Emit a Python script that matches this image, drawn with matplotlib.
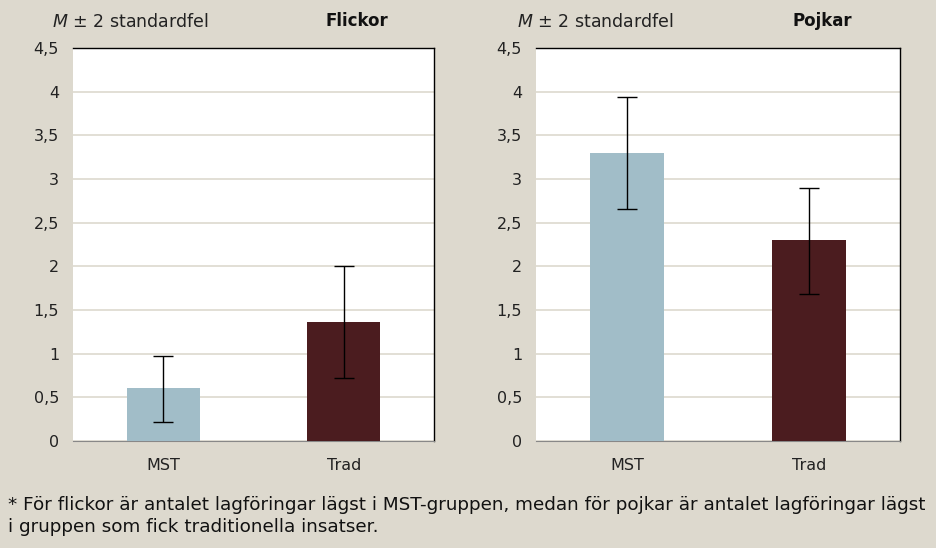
import matplotlib.pyplot as plt
import numpy as np

plt.rcParams['font.family'] = ['DejaVu Sans']

groups = ['MST', 'Trad']
flickor_m = [0.61, 1.36]
flickor_lo = [0.22, 0.72]
flickor_hi = [0.97, 2.00]
pojkar_m = [3.30, 2.30]
pojkar_lo = [2.66, 1.68]
pojkar_hi = [3.94, 2.90]
yticks = [0, 0.5, 1, 1.5, 2, 2.5, 3, 3.5, 4, 4.5]
ylabels = ['0', '0,5', '1', '1,5', '2', '2,5', '3', '3,5', '4', '4,5']

bg = '#DDD9CE'
cols = ['#A1BDC8', '#4B1C1F']

fig = plt.figure(figsize=(9.36, 5.48), dpi=100, facecolor=bg)

def panel(rect, m, lo, hi, title, title_x, sub_x):
    ax = fig.add_axes(rect)
    ax.set_facecolor('white')
    x = np.arange(len(groups))
    m = np.array(m)
    err = [m - np.array(lo), np.array(hi) - m]
    ax.bar(x, m, width=0.405, color=cols, zorder=3)
    ax.errorbar(x, m, yerr=err, fmt='none', ecolor='black', elinewidth=1,
                capsize=7, capthick=1, zorder=4)
    ax.set_xlim(-0.5, 1.5)
    ax.set_ylim(0, 4.5)
    ax.set_yticks(yticks)
    ax.set_yticklabels(ylabels)
    ax.set_xticks(x)
    ax.set_xticklabels(groups)
    ax.grid(axis='y', color=bg, linewidth=1.2, zorder=0)
    ax.tick_params(length=0, labelsize=11.5, colors='#222222', pad=10)
    ax.tick_params(axis='x', pad=12)
    for s in ['top', 'right']:
        ax.spines[s].set_color('black')
        ax.spines[s].set_linewidth(1)
    ax.spines['bottom'].set_color('#888888')
    ax.spines['left'].set_visible(False)
    fig.text(sub_x, 1 - 22/548, r'$M$ ± 2 standardfel', fontsize=12.5,
             color='#222222', ha='left', va='center')
    fig.text(title_x, 1 - 21/548, title, fontsize=12, fontweight='bold',
             color='#111111', ha='center', va='center')
    return ax

panel([73/936, 1 - 441/548, 361/936, 393/548], flickor_m, flickor_lo, flickor_hi,
      'Flickor', 357/936, 52/936)
panel([536/936, 1 - 441/548, 364/936, 393/548], pojkar_m, pojkar_lo, pojkar_hi,
      'Pojkar', 822/936, 517/936)

fig.text(8/936, 1 - 505/548,
         '* För flickor är antalet lagföringar lägst i MST-gruppen, medan för pojkar är antalet lagföringar lägst',
         fontsize=13.2, color='#111111', ha='left', va='center')
fig.text(8/936, 1 - 527/548, 'i gruppen som fick traditionella insatser.',
         fontsize=13.2, color='#111111', ha='left', va='center')

fig.savefig('out.png', dpi=100, facecolor=bg)
